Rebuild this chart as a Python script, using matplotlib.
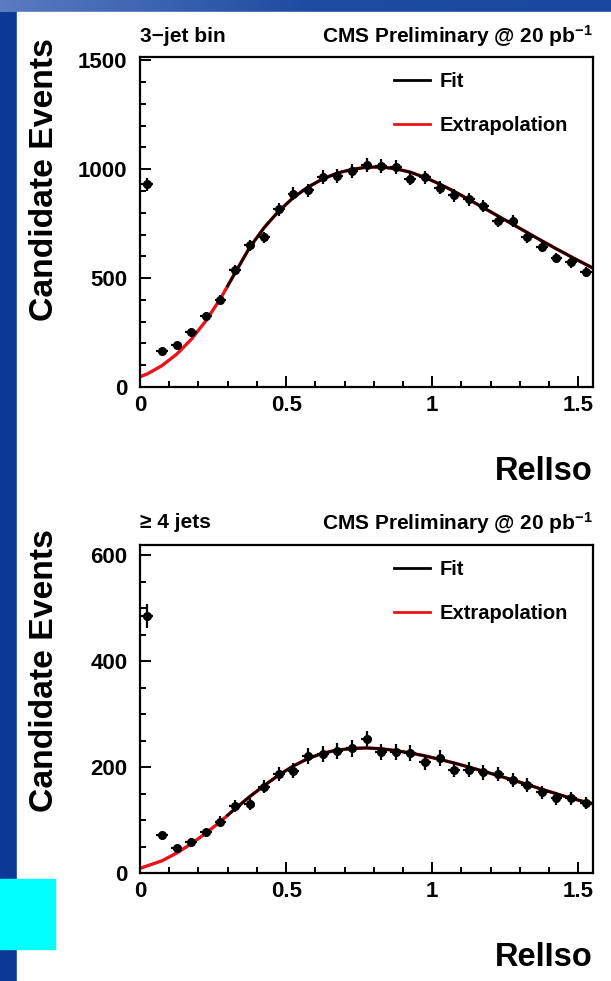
import numpy as np
import matplotlib
matplotlib.use("Agg")
import matplotlib.pyplot as plt
from matplotlib.patches import Rectangle
from matplotlib.lines import Line2D
from matplotlib.ticker import MultipleLocator
from matplotlib.colors import LinearSegmentedColormap

plt.rcParams['font.family'] = ['Liberation Sans', 'DejaVu Sans']
plt.rcParams['font.weight'] = 'bold'
plt.rcParams['mathtext.fontset'] = 'custom'
plt.rcParams['mathtext.rm'] = 'Liberation Sans:bold'
plt.rcParams['mathtext.bf'] = 'Liberation Sans:bold'
plt.rcParams['mathtext.it'] = 'Liberation Sans:bold'

# ---------------- data ----------------
bin_centers = [0.025, 0.075, 0.125, 0.175, 0.225, 0.275, 0.325, 0.375, 0.425, 0.475,
               0.525, 0.575, 0.625, 0.675, 0.725, 0.775, 0.825, 0.875, 0.925, 0.975,
               1.025, 1.075, 1.125, 1.175, 1.225, 1.275, 1.325, 1.375, 1.425, 1.475, 1.525]

counts_3jet = [930, 165, 193, 252, 327, 401, 537, 650, 687, 815,
               887, 904, 965, 968, 992, 1018, 1014, 1011, 957, 962,
               914, 881, 862, 830, 763, 763, 687, 644, 593, 572, 526]

counts_4jet = [485, 71, 47, 58, 77, 97, 126, 130, 163, 187,
               193, 221, 225, 231, 235, 253, 228, 229, 226, 209,
               217, 195, 195, 190, 187, 176, 166, 152, 141, 141, 132]

fit_x = [0.0, 0.025, 0.075, 0.125, 0.175, 0.225, 0.275, 0.3, 0.325, 0.375, 0.425, 0.475,
         0.525, 0.575, 0.625, 0.675, 0.725, 0.775, 0.825, 0.875, 0.925, 0.975,
         1.025, 1.075, 1.125, 1.175, 1.225, 1.275, 1.325, 1.375, 1.425, 1.475, 1.525, 1.55]

fit_3jet = [47, 60, 98, 150, 218, 303, 405, 464, 523, 640, 732, 808,
            870, 918, 955, 982, 999, 1009, 1010, 1002, 986, 962,
            932, 898, 861, 823, 785, 747, 709, 671, 634, 598, 563, 546]

fit_4jet = [9, 13.5, 23, 37.5, 55, 75, 97, 109, 121, 144, 165, 185,
            202, 216, 226, 232, 235, 236, 234.5, 231, 226.5, 221,
            214.5, 207.5, 200, 192, 184, 175.5, 167, 158, 149.5, 141, 134, 130.5]

fit_start = 0.3  # fit range begins here; below is extrapolation

titles_left = ["3\u2212jet bin", "\u2265 4 jets"]
title_right = r"CMS Preliminary @ 20 pb$^{-1}$"
ylabel = "Candidate Events"
xlabel = "RelIso"

# ---------------- figure ----------------
W, H = 611, 981
fig = plt.figure(figsize=(W / 100, H / 100), dpi=100)
fig.patch.set_facecolor('white')

# slide background
bg = fig.add_axes([0, 0, 1, 1], zorder=-10)
bg.axis('off')
bg.add_patch(Rectangle((0, 0), W, H, color='#0a3a96'))
grad = np.linspace(0, 1, 256).reshape(1, -1)
cm = LinearSegmentedColormap.from_list('g', ['#5a7cc0', '#1d4ca2', '#1a48a0'])
bg.imshow(grad, extent=(0, W, 12, 0), cmap=cm, aspect='auto', zorder=1)
bg.add_patch(Rectangle((17, 12), W - 17, H - 12, color='white', zorder=2))
bg.add_patch(Rectangle((0, 879), 55, 70, color='#00ffff', zorder=3))
bg.set_xlim(0, W)
bg.set_ylim(H, 0)


def make_panel(rect, counts, fit, ymax, ymajor, yminor, title_left, title_dy, ylab_y):
    ax = fig.add_axes(rect)
    ax.set_facecolor('none')
    xc = np.array(bin_centers)
    yc = np.array(counts, dtype=float)
    fx = np.array(fit_x)
    fy = np.array(fit, dtype=float)
    ax.plot(fx, fy, color='#e8141c', lw=2.4, zorder=2, solid_joinstyle='round')
    m = fx >= fit_start
    ax.plot(fx[m], fy[m], color='#150000', lw=2.0, zorder=3, solid_joinstyle='round')
    ax.errorbar(xc, yc, xerr=0.02, yerr=np.sqrt(yc), fmt='o', color='black',
                ms=5.5, elinewidth=1.6, capsize=0, zorder=4)
    ax.set_xlim(0, 1.55)
    ax.set_ylim(0, ymax)
    ax.xaxis.set_major_locator(MultipleLocator(0.5))
    ax.xaxis.set_minor_locator(MultipleLocator(0.1))
    ax.yaxis.set_major_locator(MultipleLocator(ymajor))
    ax.yaxis.set_minor_locator(MultipleLocator(yminor))
    ax.xaxis.set_major_formatter(matplotlib.ticker.FuncFormatter(lambda v, p: f"{v:g}"))
    ax.tick_params(which='both', direction='in', top=False, right=False, width=1.4,
                   labelsize=16)
    ax.tick_params(which='major', length=8)
    ax.tick_params(which='minor', length=4.5)
    ax.tick_params(axis='y', pad=9)
    ax.tick_params(axis='x', pad=6)
    for s in ax.spines.values():
        s.set_linewidth(1.6)
    for lab in ax.get_xticklabels() + ax.get_yticklabels():
        lab.set_fontweight('bold')
    ax.set_xlabel(xlabel, loc='right', fontsize=23.5, fontweight='bold')
    ax.xaxis.set_label_coords(1.0, -0.21)
    ax.set_ylabel(ylabel, loc='top', fontsize=24.3, fontweight='bold')
    ax.yaxis.set_label_coords(-0.176, ylab_y)
    ax.text(0.0, 1 + title_dy, title_left, transform=ax.transAxes, ha='left', va='center',
            fontsize=15, fontweight='bold')
    ax.text(1.0, 1 + title_dy, title_right, transform=ax.transAxes, ha='right', va='center',
            fontsize=15, fontweight='bold')
    handles = [Line2D([], [], color='black', lw=2.0), Line2D([], [], color='#e8141c', lw=2.0)]
    ax.legend(handles, ["Fit", "Extrapolation"], loc='upper left', bbox_to_anchor=(0.56, 0.955),
              frameon=False, prop={'size': 14.5, 'weight': 'bold'}, handlelength=1.8,
              handletextpad=0.5, labelspacing=1.25, borderpad=0, borderaxespad=0)
    return ax


ax1 = make_panel([140 / W, 1 - 387 / H, 453 / W, 330 / H], counts_3jet, fit_3jet,
                 1515, 500, 100, titles_left[0], 0.062, 1.058)
ax2 = make_panel([140 / W, 1 - 873 / H, 453 / W, 328 / H], counts_4jet, fit_4jet,
                 619, 200, 50, titles_left[1], 0.068, 1.047)

fig.savefig("out.png", dpi=100)
